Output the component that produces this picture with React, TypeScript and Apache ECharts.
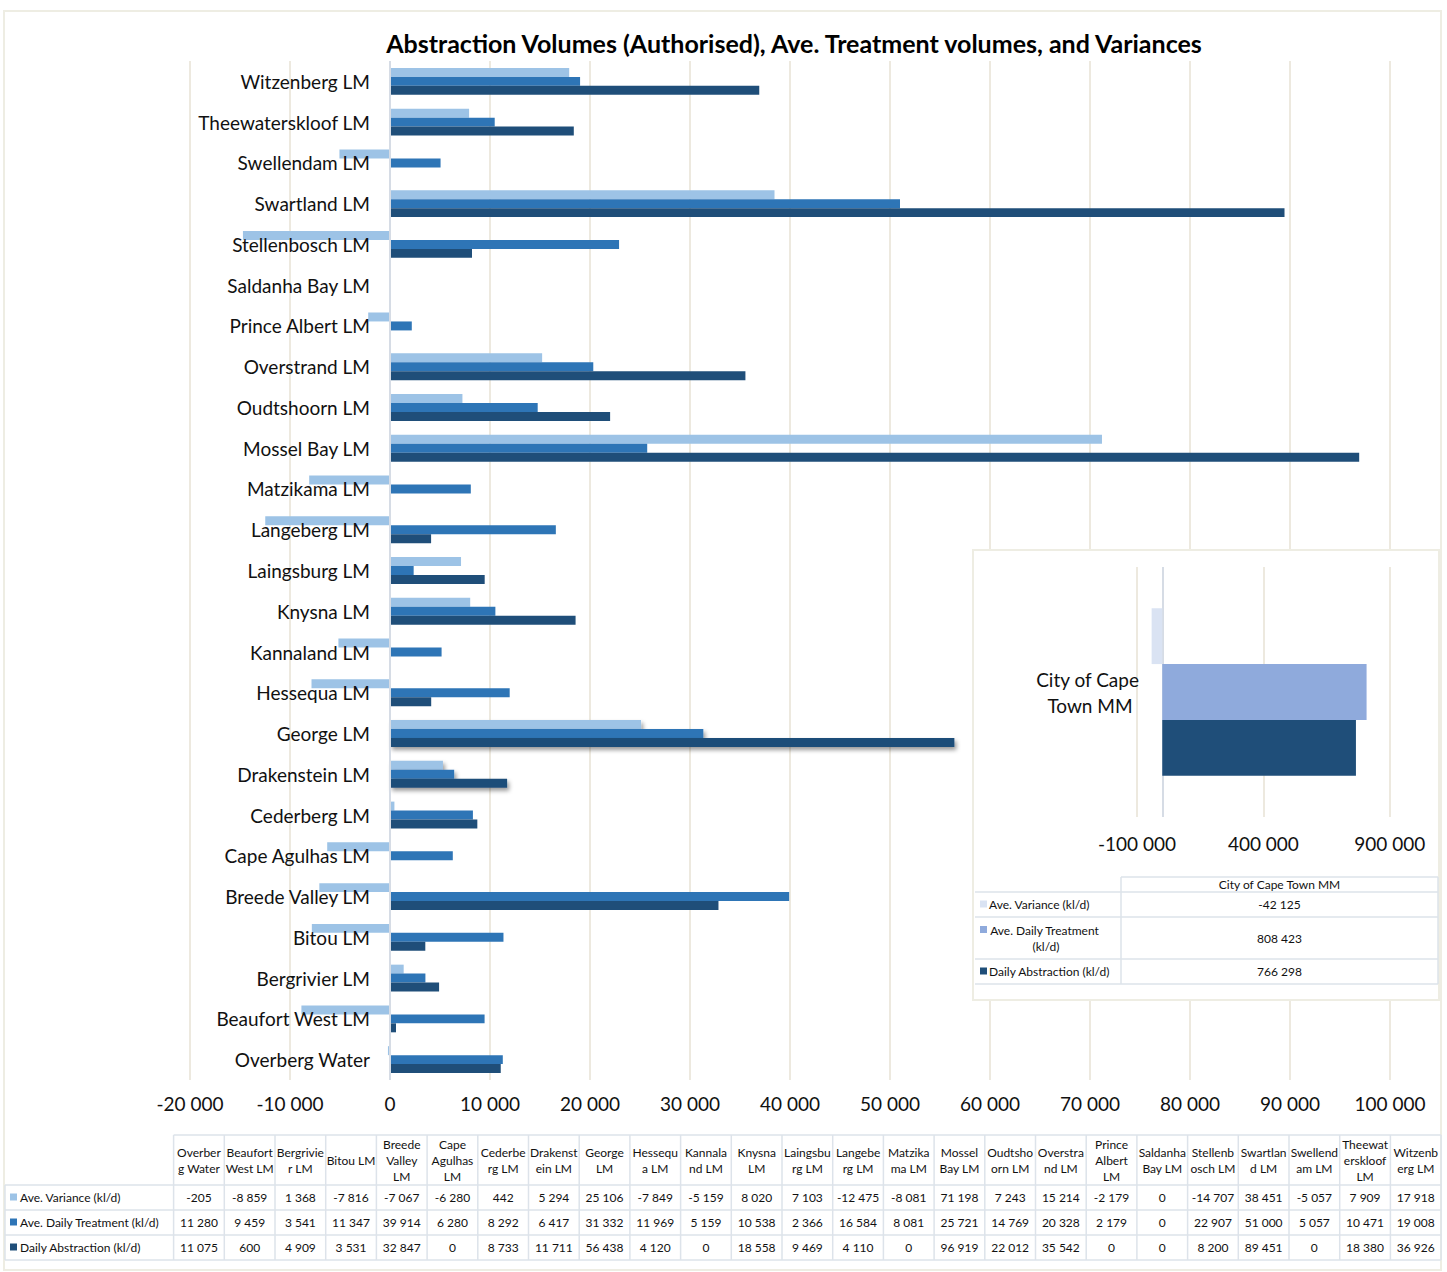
import React, { useEffect, useRef } from 'react';
import * as echarts from 'echarts';

const categories = [
  'Overberg Water', 'Beaufort West LM', 'Bergrivier LM', 'Bitou LM', 'Breede Valley LM',
  'Cape Agulhas LM', 'Cederberg LM', 'Drakenstein LM', 'George LM', 'Hessequa LM',
  'Kannaland LM', 'Knysna LM', 'Laingsburg LM', 'Langeberg LM', 'Matzikama LM',
  'Mossel Bay LM', 'Oudtshoorn LM', 'Overstrand LM', 'Prince Albert LM', 'Saldanha Bay LM',
  'Stellenbosch LM', 'Swartland LM', 'Swellendam LM', 'Theewaterskloof LM', 'Witzenberg LM',
];
// data-table column headers, wrapped as they appear in the reference table
const tableHeaders = [
  'Overber\ng Water', 'Beaufort\nWest LM', 'Bergrivie\nr LM', 'Bitou LM', 'Breede\nValley\nLM',
  'Cape\nAgulhas\nLM', 'Cederbe\nrg LM', 'Drakenst\nein LM', 'George\nLM', 'Hessequ\na LM',
  'Kannala\nnd LM', 'Knysna\nLM', 'Laingsbu\nrg LM', 'Langebe\nrg LM', 'Matzika\nma LM',
  'Mossel\nBay LM', 'Oudtsho\norn LM', 'Overstra\nnd LM', 'Prince\nAlbert\nLM', 'Saldanha\nBay LM',
  'Stellenb\nosch LM', 'Swartlan\nd LM', 'Swellend\nam LM', 'Theewat\nerskloof\nLM', 'Witzenb\nerg LM',
];
const variance = [-205, -8859, 1368, -7816, -7067, -6280, 442, 5294, 25106, -7849, -5159, 8020, 7103, -12475, -8081, 71198, 7243, 15214, -2179, 0, -14707, 38451, -5057, 7909, 17918];
const treatment = [11280, 9459, 3541, 11347, 39914, 6280, 8292, 6417, 31332, 11969, 5159, 10538, 2366, 16584, 8081, 25721, 14769, 20328, 2179, 0, 22907, 51000, 5057, 10471, 19008];
const abstraction = [11075, 600, 4909, 3531, 32847, 0, 8733, 11711, 56438, 4120, 0, 18558, 9469, 4110, 0, 96919, 22012, 35542, 0, 0, 8200, 89451, 0, 18380, 36926];

const seriesNames = ['Ave. Variance (kl/d)', 'Ave. Daily Treatment (kl/d)', 'Daily Abstraction (kl/d)'];

const insetCategories = ['City of Cape Town MM'];
const insetVariance = [-42125];
const insetTreatment = [808423];
const insetAbstraction = [766298];
const insetTicks = [-100000, 400000, 900000];

const title = 'Abstraction Volumes (Authorised), Ave. Treatment volumes, and Variances';
const shadowedCategories = ['George LM', 'Drakenstein LM'];

const mainColors = ['#9DC3E6', '#2E75B6', '#1F4E79'];
const insetColors = ['#DAE3F3', '#8FAADC', '#1F4E79'];
const FONT = 'Lato, "Open Sans", sans-serif';
const gridColor = '#EDE9DF';
const zeroColor = '#D6DCE5';
const tableLine = '#DDE3EA';
const borderColor = '#EEEDE3';

const fmt = (v: number) => {
  const s = Math.abs(Math.round(v)).toString().replace(/\B(?=(\d{3})+(?!\d))/g, ' ');
  return (v < 0 ? '-' : '') + s;
};

function buildGraphics() {
  const g: any[] = [];
  g.push({ type: 'rect', z: 1, shape: { x: 4, y: 11, width: 1437, height: 1259 }, style: { fill: 'none', stroke: borderColor, lineWidth: 2 } });
  g.push({ type: 'text', z: 20, x: 794, y: 43, style: { text: title, font: `bold 25px ${FONT}`, fill: '#000', align: 'center', verticalAlign: 'middle' } });

  // main data table
  const colX = 173.6, colW = 50.7, yTop = 1135, yHead = 1185, rowH = 25, x0 = 5;
  const xEnd = colX + colW * categories.length;
  const hl = (x1: number, y: number, x2: number) => g.push({ type: 'line', z: 3, shape: { x1, y1: y, x2, y2: y }, style: { stroke: tableLine, lineWidth: 1.5 } });
  const vl = (x: number, y1: number, y2: number) => g.push({ type: 'line', z: 3, shape: { x1: x, y1, x2: x, y2 }, style: { stroke: tableLine, lineWidth: 1.5 } });
  hl(colX, yTop, xEnd);
  for (let r = 0; r <= 3; r++) hl(x0, yHead + r * rowH, xEnd);
  for (let c = 0; c <= categories.length; c++) vl(colX + c * colW, yTop, yHead + 3 * rowH);
  vl(x0, yHead, yHead + 3 * rowH);
  tableHeaders.forEach((c, i) => {
    g.push({ type: 'text', z: 4, x: colX + (i + 0.5) * colW, y: (yTop + yHead) / 2, style: { text: c, lineHeight: 16, font: `12px ${FONT}`, fill: '#111', align: 'center', verticalAlign: 'middle' } });
  });
  const rows = [variance, treatment, abstraction];
  rows.forEach((vals, r) => {
    const cy = yHead + r * rowH + rowH / 2;
    g.push({ type: 'rect', z: 4, shape: { x: 10, y: cy - 4, width: 7, height: 7 }, style: { fill: mainColors[r] } });
    g.push({ type: 'text', z: 4, x: 20, y: cy, style: { text: seriesNames[r], font: `12px ${FONT}`, fill: '#111', align: 'left', verticalAlign: 'middle' } });
    vals.forEach((v, i) => {
      g.push({ type: 'text', z: 4, x: colX + (i + 0.5) * colW, y: cy, style: { text: fmt(v), font: `12px ${FONT}`, fill: '#111', align: 'center', verticalAlign: 'middle' } });
    });
  });

  // inset box
  g.push({ type: 'rect', z: 3, shape: { x: 973, y: 550, width: 466, height: 450 }, style: { fill: '#fff', stroke: borderColor, lineWidth: 2 } });
  // inset table
  const ix0 = 975, ixMid = 1121, ix1 = 1438, ihTop = 877, ihBot = 892;
  const rowHs = [25, 42, 25];
  const hl2 = (x1: number, y: number, x2: number) => g.push({ type: 'line', z: 4, shape: { x1, y1: y, x2, y2: y }, style: { stroke: tableLine, lineWidth: 1.5 } });
  const vl2 = (x: number, y1: number, y2: number) => g.push({ type: 'line', z: 4, shape: { x1: x, y1, x2: x, y2 }, style: { stroke: tableLine, lineWidth: 1.5 } });
  hl2(ixMid, ihTop, ix1);
  let y = ihBot;
  hl2(ix0, y, ix1);
  const insetVals = [insetVariance[0], insetTreatment[0], insetAbstraction[0]];
  rowHs.forEach((h, r) => {
    const cy = y + h / 2;
    const wrapped = h > 30;
    g.push({ type: 'rect', z: 5, shape: { x: 980, y: wrapped ? y + 9 : cy - 4, width: 7, height: 7 }, style: { fill: insetColors[r] } });
    g.push({ type: 'text', z: 5, x: wrapped ? 1046 : 989, y: cy, style: { text: seriesNames[r], width: wrapped ? 122 : 200, overflow: 'break', lineHeight: 16, font: `12px ${FONT}`, fill: '#111', align: wrapped ? 'center' : 'left', verticalAlign: 'middle' } });
    g.push({ type: 'text', z: 5, x: (ixMid + ix1) / 2, y: cy, style: { text: fmt(insetVals[r]), font: `12px ${FONT}`, fill: '#111', align: 'center', verticalAlign: 'middle' } });
    y += h;
    hl2(ix0, y, ix1);
  });
  vl2(ixMid, ihTop, y);
  vl2(ix1, ihTop, y);
  g.push({ type: 'text', z: 5, x: (ixMid + ix1) / 2, y: (ihTop + ihBot) / 2, style: { text: insetCategories[0], font: `12px ${FONT}`, fill: '#111', align: 'center', verticalAlign: 'middle' } });
  return g;
}

export default function App() {
  const ref = useRef<HTMLDivElement>(null);
  useEffect(() => {
    document.body.style.margin = '0';
    const chart = echarts.init(ref.current!, null, { renderer: 'svg' });
    const shadowStyle = { shadowBlur: 4, shadowOffsetX: 2, shadowOffsetY: 3, shadowColor: 'rgba(0,0,0,0.4)' };
    const mainData = [variance, treatment, abstraction];
    const insetData = [insetVariance, insetTreatment, insetAbstraction];
    const option: any = {
      animation: false,
      backgroundColor: '#fff',
      textStyle: { fontFamily: FONT },
      grid: [
        { left: 190, top: 61, width: 1200, height: 1019, containLabel: false, outerBoundsMode: 'none' },
        { left: 1137, top: 567, width: 278, height: 250, containLabel: false, outerBoundsMode: 'none' },
      ],
      xAxis: [
        {
          type: 'value', gridIndex: 0, min: -20000, max: 100000, interval: 10000,
          axisLine: { show: false }, axisTick: { show: false },
          splitLine: { show: true, lineStyle: { color: gridColor, width: 2 } },
          axisLabel: { formatter: (v: number) => fmt(v), fontSize: 19, color: '#111', margin: 14, fontFamily: FONT },
        },
        {
          type: 'value', gridIndex: 1, min: -100000, max: 1000000, interval: 100000, z: 6,
          axisLine: { show: false }, axisTick: { show: false }, splitLine: { show: false },
          axisLabel: { formatter: (v: number) => (insetTicks.includes(v) ? fmt(v) : ''), fontSize: 19, color: '#111', margin: 17, fontFamily: FONT },
        },
      ],
      yAxis: [
        {
          type: 'category', gridIndex: 0, data: categories, z: 10,
          axisLine: { show: false, onZero: false },
          axisTick: { show: false },
          axisLabel: { fontSize: 19, color: '#111', margin: -180, padding: [0, 0, 4, 0], fontFamily: FONT },
        },
        {
          type: 'category', gridIndex: 1, data: insetCategories, z: 6,
          axisLine: { show: false, onZero: false },
          axisTick: { show: false },
          axisLabel: { fontSize: 19, color: '#111', margin: 47, align: 'center', width: 120, overflow: 'break', lineHeight: 26, padding: [0, 0, 4, 0], fontFamily: FONT },
        },
      ],
      series: [
        ...seriesNames.map((name, s) => ({
          type: 'bar', name, xAxisIndex: 0, yAxisIndex: 0, z: 2,
          barGap: '0%', barCategoryGap: '34%',
          itemStyle: { color: mainColors[s] },
          data: mainData[s].map((v, i) => (shadowedCategories.includes(categories[i]) ? { value: v, itemStyle: shadowStyle } : v)),
        })),
        {
          type: 'line', xAxisIndex: 0, yAxisIndex: 0, z: 1, data: [], silent: true,
          markLine: {
            silent: true, symbol: 'none', label: { show: false },
            lineStyle: { color: zeroColor, width: 2, type: 'solid' },
            data: [{ xAxis: 0 }],
          },
        },
        ...seriesNames.map((name, s) => ({
          type: 'bar', name: name + ' ', xAxisIndex: 1, yAxisIndex: 1, z: 5,
          barGap: '0%', barCategoryGap: '33%',
          itemStyle: { color: insetColors[s] },
          data: insetData[s],
        })),
        {
          type: 'line', xAxisIndex: 1, yAxisIndex: 1, z: 4, data: [], silent: true,
          markLine: {
            silent: true, symbol: 'none', label: { show: false },
            data: [
              ...insetTicks.map((t) => ({ xAxis: t, lineStyle: { color: gridColor, width: 2, type: 'solid' } })),
              { xAxis: 0, lineStyle: { color: zeroColor, width: 2, type: 'solid' } },
            ],
          },
        },
      ],
      graphic: { elements: buildGraphics() },
    };
    chart.setOption(option);
    return () => chart.dispose();
  }, []);
  return <div ref={ref} style={{ width: 1447, height: 1272 }} />;
}
